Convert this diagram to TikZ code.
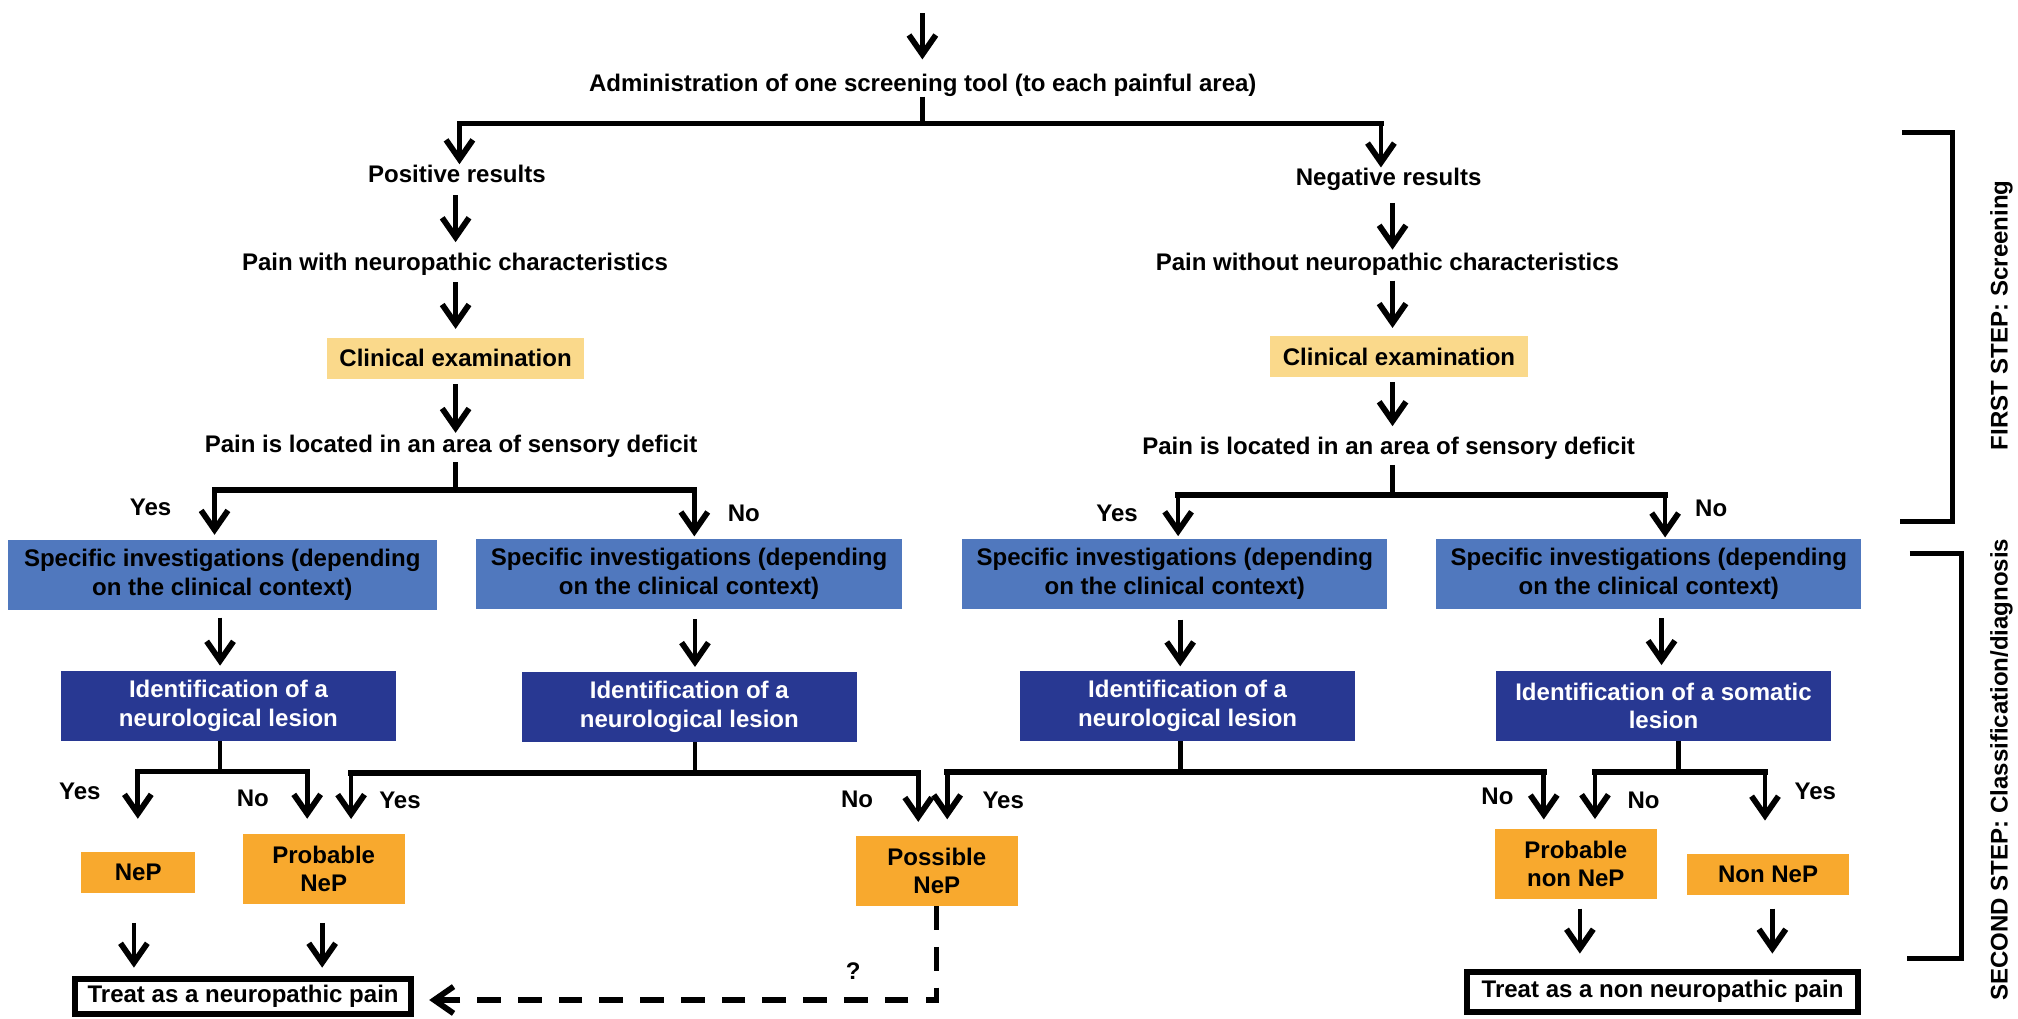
\documentclass[tikz,border=0pt]{standalone}
\usepackage{fontspec}
\setmainfont{Liberation Sans}
\usetikzlibrary{arrows.meta,calc}
\newcommand{\myfnt}{\fontsize{11.2}{13.3}\selectfont\bfseries}
\definecolor{cexam}{HTML}{FAD98B}
\definecolor{cspec}{HTML}{5078BE}
\definecolor{cident}{HTML}{283892}
\definecolor{cres}{HTML}{F8A92E}
\tikzset{
  txt/.style={inner sep=0pt, font=\myfnt, text height=8.2pt, text depth=2.4pt},
  boxbase/.style={inner sep=0pt, font=\myfnt, align=center},
  exambox/.style={boxbase, fill=cexam, minimum width=120pt, minimum height=19pt},
  specbox/.style={boxbase, fill=cspec, minimum height=32.5pt},
  identbox/.style={boxbase, fill=cident, text=white, minimum width=156pt, minimum height=32.5pt},
  resbox/.style={boxbase, fill=cres, minimum width=75.4pt, minimum height=32.5pt},
  treatbox/.style={boxbase, draw=black, line width=2.8pt},
  arr/.style={line width=2.2pt, -{Straight Barb[length=9pt,width=12.5pt,line width=2.7pt]}},
  stem/.style={line width=2.2pt},
  barline/.style={line width=2.6pt, line cap=rect},
  dasharr/.style={line width=2.5pt, dash pattern=on 11pt off 8pt, -{Straight Barb[length=9pt,width=12.5pt,line width=2.7pt]}},
  brk/.style={line width=2.6pt},
}
\begin{document}
\begin{tikzpicture}[x=0.6pt,y=-0.6pt]
\useasboundingbox (0,0) rectangle (1568,791);
% columns and junctions
\coordinate (topin) at (716.7,10.4);
\coordinate (colL) at (354,0);
\coordinate (colR) at (1082,0);
\coordinate (jA) at (717,95.8);
\coordinate (jAL) at (357,95.8);
\coordinate (jAR) at (1073,95.8);
\coordinate (jS1) at (354,380.7);
\coordinate (jS1L) at (166.7,380.7);
\coordinate (jS1R) at (539.5,380.7);
\coordinate (jS2) at (1082,384.6);
\coordinate (jS2L) at (915.4,384.6);
\coordinate (jS2R) at (1293.8,384.6);
\coordinate (jD1) at (171,599.6);
\coordinate (jD2) at (540,600.4);
\coordinate (jD3) at (917,600);
\coordinate (jD4) at (1304,600);
\coordinate (colD4) at (1291,0);
\coordinate (jD1L) at (107.1,599.6);
\coordinate (jD1R) at (238.7,599.6);
\coordinate (jD2L) at (272.8,600.4);
\coordinate (jD2R) at (713.5,600.4);
\coordinate (jD3L) at (736,600);
\coordinate (jD3R) at (1199.5,600);
\coordinate (jD4L) at (1239.3,600);
\coordinate (jD4R) at (1371.4,600);
\coordinate (dC) at (727.9,777);

% text nodes
\node[txt] (adm) at (717,66) {Administration of one screening tool (to each painful area)};
\node[txt] (pos) at (355,136.8) {Positive results};
\node[txt] (neg) at (1079,139.3) {Negative results};
\node[txt] (pwn) at (353.5,205) {Pain with neuropathic characteristics};
\node[txt] (pwo) at (1078,205) {Pain without neuropathic characteristics};
\node[exambox] (ce1) at (354,278.4) {Clinical examination};
\node[exambox] (ce2) at (1087,277) {Clinical examination};
\node[txt] (sens1) at (350.5,347) {Pain is located in an area of sensory deficit};
\node[txt] (sens2) at (1079,348.3) {Pain is located in an area of sensory deficit};

% specific investigation boxes
\node[specbox, minimum width=200pt] (sb1) at (172.7,446.8) {Specific investigations (depending\\on the clinical context)};
\node[specbox, minimum width=198.4pt] (sb2) at (535.4,446) {Specific investigations (depending\\on the clinical context)};
\node[specbox, minimum width=198.1pt] (sb3) at (912.8,446) {Specific investigations (depending\\on the clinical context)};
\node[specbox, minimum width=198.1pt] (sb4) at (1281.1,446) {Specific investigations (depending\\on the clinical context)};

% identification boxes
\node[identbox] (d1) at (177.5,548.5) {Identification of a\\neurological lesion};
\node[identbox] (d2) at (535.6,549.3) {Identification of a\\neurological lesion};
\node[identbox] (d3) at (922.8,548.5) {Identification of a\\neurological lesion};
\node[identbox] (d4) at (1292.5,548.5) {Identification of a somatic\\lesion};

% result boxes
\node[resbox, minimum width=53.2pt, minimum height=18.8pt] (nep) at (107.4,678) {NeP};
\node[resbox] (pnep) at (251.5,675.1) {Probable\\NeP};
\node[resbox] (posnep) at (727.9,676.7) {Possible\\NeP};
\node[resbox] (pnon) at (1224.4,671.3) {Probable\\non NeP};
\node[resbox, minimum width=75.5pt, minimum height=19.1pt] (non) at (1373.8,679.5) {Non NeP};

% treatment boxes
\node[treatbox, minimum width=156.7pt, minimum height=16.2pt] (t1) at (188.9,774.2) {Treat as a neuropathic pain};
\node[treatbox, minimum width=182.1pt, minimum height=18.8pt] (t2) at (1291.8,770.6) {Treat as a non neuropathic pain};

% branch labels
\node[txt] (yes1) at (117,396) {Yes};
\node[txt] (no1) at (578,400) {No};
\node[txt] (yes2) at (868,400) {Yes};
\node[txt] (no2) at (1329.6,396.8) {No};
\node[txt] (yes3) at (62,616) {Yes};
\node[txt] (no3) at (196.5,621.6) {No};
\node[txt] (yes4) at (310.8,623.7) {Yes};
\node[txt] (no4) at (666,622.3) {No};
\node[txt] (yes5) at (779.5,623) {Yes};
\node[txt] (no5) at (1163.5,620.5) {No};
\node[txt] (no6) at (1277,623) {No};
\node[txt] (yes6) at (1410.5,616) {Yes};
\node[txt] (qm) at (663,756) {?};

% step labels
\node[txt, rotate=90] (step1) at (1555,245) {FIRST STEP: Screening};
\node[txt, rotate=90] (step2) at (1555,598) {SECOND STEP: Classification/diagnosis};

% top connectors
\draw[arr, shorten >=6.4pt] (topin) -- (adm.north -| topin);
\draw[stem] (adm.south) -- (jA);
\draw[barline] (jAL) -- (jAR);
\draw[arr] (jAL) -- (jAL |- pos.north);
\draw[arr] (jAR) -- (jAR |- neg.north);
\draw[arr, shorten <=3.5pt, shorten >=4.6pt] (colL |- pos.south) -- (colL |- pwn.north);
\draw[arr, shorten <=5.5pt, shorten >=1.1pt] (colR |- neg.south) -- (colR |- pwo.north);
\draw[arr, shorten <=3.1pt, shorten >=4pt] (colL |- pwn.south) -- (colL |- ce1.north);
\draw[arr, shorten <=2.3pt, shorten >=3.6pt] (colR |- pwo.south) -- (colR |- ce2.north);
\draw[arr, shorten <=2.3pt, shorten >=0.9pt] (colL |- ce1.south) -- (colL |- sens1.north);
\draw[arr, shorten <=2.4pt, shorten >=4.8pt] (colR |- ce2.south) -- (colR |- sens2.north);
\draw[stem, shorten <=1.8pt] (colL |- sens1.south) -- (jS1);
\draw[stem, shorten <=2.3pt] (colR |- sens2.south) -- (jS2);
\draw[barline] (jS1L) -- (jS1R);
\draw[barline] (jS2L) -- (jS2R);
\draw[arr, shorten >=2.3pt] (jS1L) -- (jS1L |- sb1.north);
\draw[arr, shorten >=1.1pt] (jS1R) -- (jS1R |- sb2.north);
\draw[arr, shorten >=1.2pt] (jS2L) -- (jS2L |- sb3.north);
\draw[arr, shorten >=0.6pt] (jS2R) -- (jS2R |- sb4.north);

% investigations to identification
\draw[arr, shorten <=3.4pt, shorten >=2.3pt] (jD1 |- sb1.south) -- (jD1 |- d1.north);
\draw[arr, shorten <=4.7pt, shorten >=2.2pt] (jD2 |- sb2.south) -- (jD2 |- d2.north);
\draw[arr, shorten <=4.8pt, shorten >=2pt] (jD3 |- sb3.south) -- (jD3 |- d3.north);
\draw[arr, shorten <=4.2pt, shorten >=2.6pt] (colD4 |- sb4.south) -- (colD4 |- d4.north);

% identification stems and bars
\draw[stem] (jD1 |- d1.south) -- (jD1);
\draw[stem] (jD2 |- d2.south) -- (jD2);
\draw[stem] (jD3 |- d3.south) -- (jD3);
\draw[stem] (jD4 |- d4.south) -- (jD4);
\draw[barline] (jD1L) -- (jD1R);
\draw[barline] (jD2L) -- (jD2R);
\draw[barline] (jD3L) -- (jD3R);
\draw[barline] (jD4L) -- (jD4R);
\draw[arr, shorten >=15.5pt] (jD1L) -- (jD1L |- nep.north);
\draw[arr, shorten >=6.9pt] (jD1R) -- (jD1R |- pnep.north);
\draw[arr, shorten >=6.8pt] (jD2L) -- (jD2L |- pnep.north);
\draw[arr, shorten >=6.4pt] (jD2R) -- (jD2R |- posnep.north);
\draw[arr, shorten >=7.6pt] (jD3L) -- (jD3L |- posnep.north);
\draw[arr, shorten >=4.3pt] (jD3R) -- (jD3R |- pnon.north);
\draw[arr, shorten >=4.5pt] (jD4L) -- (jD4L |- pnon.north);
\draw[arr, shorten >=15.4pt] (jD4R) -- (jD4R |- non.north);

% results to treatment
\draw[arr, shorten <=13.9pt, shorten >=3.9pt] ([xshift=-2pt]nep.south) -- ([xshift=-2pt]nep.south |- t1.north);
\draw[arr, shorten <=8.7pt, shorten >=3.9pt] ([xshift=-0.7pt]pnep.south) -- ([xshift=-0.7pt]pnep.south |- t1.north);
\draw[arr, shorten <=4.4pt, shorten >=7pt] ([xshift=1.9pt]pnon.south) -- ([xshift=1.9pt]pnon.south |- t2.north);
\draw[arr, shorten <=6.2pt, shorten >=7pt] ([xshift=2pt]non.south) -- ([xshift=2pt]non.south |- t2.north);
\draw[dasharr, shorten >=7pt] (posnep.south) -- (dC) -- (dC -| t1.east);

% step brackets
\draw[brk] (1478,103) -- (1517,103) -- (1517,405.3) -- (1476,405.3);
\draw[brk] (1484,430) -- (1524,430) -- (1524,744.6) -- (1482,744.6);
\end{tikzpicture}
\end{document}
